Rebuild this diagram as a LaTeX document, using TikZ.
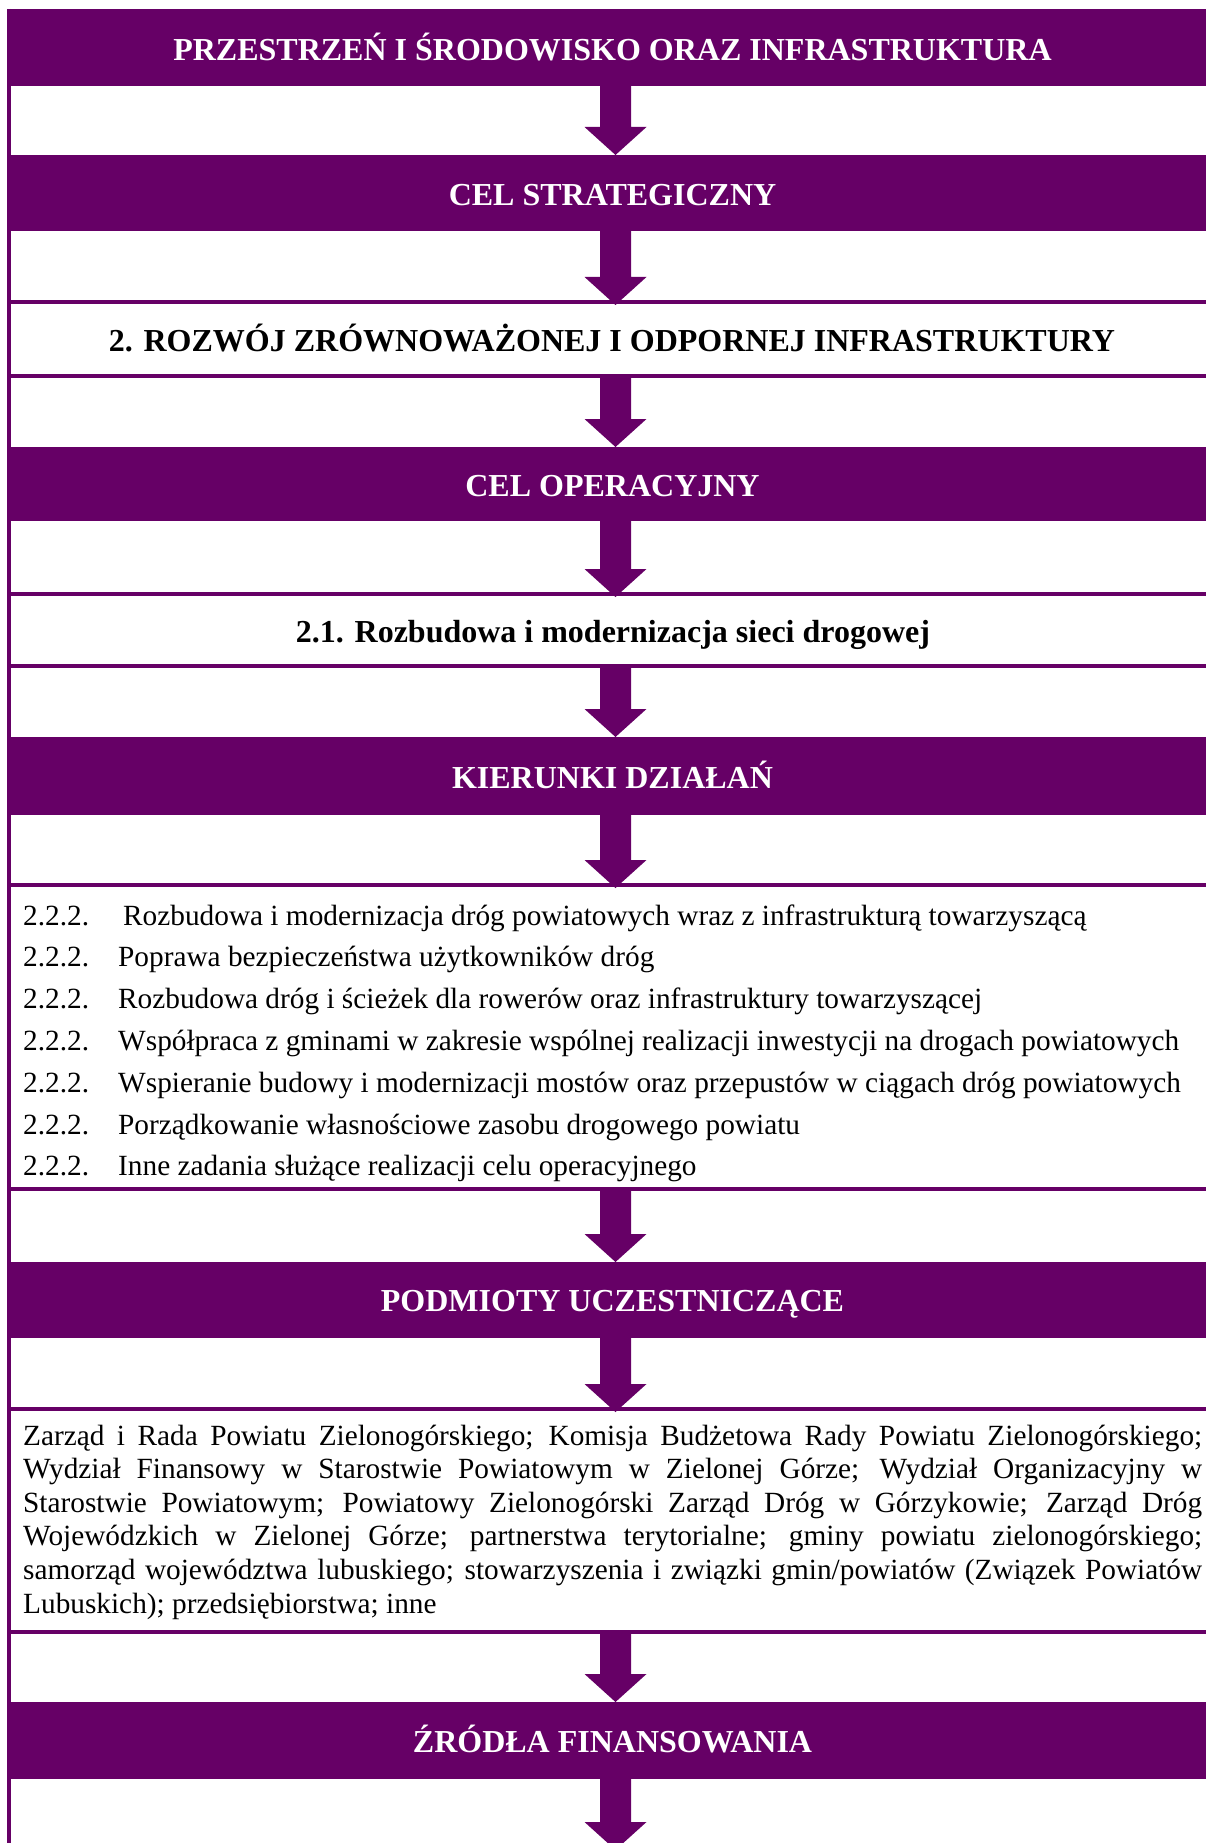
\documentclass[tikz,border=0pt]{standalone}
\usepackage{fontspec}
\setmainfont{Liberation Serif}
\usetikzlibrary{calc}
\definecolor{purp}{HTML}{660066}
\newcommand\blockarrow[2]{%
  \fill[purp] let \p1=(#1), \p2=(#2) in
   (\x1-15.5pt,\y1) -- (\x1+15.5pt,\y1) -- (\x1+15.5pt,\y2+28pt) -- (\x1+31pt,\y2+28pt)
   -- (\x1,\y2) -- (\x1-31pt,\y2+28pt) -- (\x1-15.5pt,\y2+28pt) -- cycle;}
\begin{document}
\begin{tikzpicture}[x=1pt,y=-1pt,
  banner/.style={fill=purp, inner sep=0pt, outer sep=0pt, anchor=north west, minimum width=1215pt},
  box/.style={draw=purp, line width=4pt, inner sep=0pt, outer sep=0pt, anchor=north west, minimum width=1215pt},
  head/.style={text=white, font=\fontsize{32}{38}\selectfont\bfseries, inner sep=0pt, anchor=base},
  boxhead/.style={text=black, font=\fontsize{32}{38}\selectfont\bfseries, inner sep=0pt, anchor=base},
  body/.style={text=black, font=\fontsize{29.3}{35}\selectfont, inner sep=0pt, anchor=base west}]
\useasboundingbox (0,0) rectangle (1206,1843);
\clip (0,0) rectangle (1206,1843);
\coordinate (ax) at (615.5,0);
\coordinate (endtip) at (615.5,1850);
% left rule
\draw[purp, line width=4pt] (9,9) -- (9,1850);
% banners and boxes
\node[banner, minimum height=77pt] (b1) at (7,9) {};
\node[banner, minimum height=76pt] (b2) at (7,155) {};
\node[box, minimum height=74pt] (b3) at (9,302) {};
\node[banner, minimum height=74pt] (b4) at (7,447) {};
\node[box, minimum height=72pt] (b5) at (9,594) {};
\node[banner, minimum height=78pt] (b6) at (7,737) {};
\node[box, minimum height=304pt] (b7) at (9,885) {};
\node[banner, minimum height=76pt] (b8) at (7,1262) {};
\node[box, minimum height=223pt] (b9) at (9,1409) {};
\node[banner, minimum height=77pt] (b10) at (7,1702) {};
% arrows
\blockarrow{b1.south -| ax}{b2.north -| ax}
\blockarrow{b2.south -| ax}{$(b3.north -| ax)+(0,3)$}
\blockarrow{b3.south -| ax}{b4.north -| ax}
\blockarrow{b4.south -| ax}{$(b5.north -| ax)+(0,3)$}
\blockarrow{b5.south -| ax}{b6.north -| ax}
\blockarrow{b6.south -| ax}{$(b7.north -| ax)+(0,3)$}
\blockarrow{b7.south -| ax}{b8.north -| ax}
\blockarrow{b8.south -| ax}{$(b9.north -| ax)+(0,3)$}
\blockarrow{b9.south -| ax}{b10.north -| ax}
\blockarrow{b10.south -| ax}{endtip}
% texts
\node[head] (t1) at (612.5,60.5) {PRZESTRZEŃ I ŚRODOWISKO ORAZ INFRASTRUKTURA};
\node[head] (t2) at (612.5,206) {CEL STRATEGICZNY};
\node[boxhead] (t3) at (612,351) {2. ROZWÓJ ZRÓWNOWAŻONEJ I ODPORNEJ INFRASTRUKTURY};
\node[head] (t4) at (612.5,496.5) {CEL OPERACYJNY};
\node[boxhead] (t5) at (613,642) {2.1. Rozbudowa i modernizacja sieci drogowej};
\node[head] (t6) at (612.5,788) {KIERUNKI DZIAŁAŃ};
\node[head] (t8) at (612.5,1311) {PODMIOTY UCZESTNICZĄCE};
\node[head] (t10) at (612.5,1752) {ŹRÓDŁA FINANSOWANIA};
% list
\foreach \t [count=\i] in {%
  {\hspace{5pt}Rozbudowa i modernizacja dróg powiatowych wraz z infrastrukturą towarzyszącą},
  {Poprawa bezpieczeństwa użytkowników dróg},
  {Rozbudowa dróg i ścieżek dla rowerów oraz infrastruktury towarzyszącej},
  {Współpraca z gminami w zakresie wspólnej realizacji inwestycji na drogach powiatowych},
  {Wspieranie budowy i modernizacji mostów oraz przepustów w ciągach dróg powiatowych},
  {Porządkowanie własnościowe zasobu drogowego powiatu},
  {Inne zadania służące realizacji celu operacyjnego}}
{
  \node[body] (n\i) at (23,{925+41.8*(\i-1)}) {2.2.2.};
  \node[body] (k\i) at (118,{925+41.8*(\i-1)}) {\t};
}
% paragraph
\node[body] (p1) at (23,1445) {\makebox[1179pt][s]{Zarząd i Rada Powiatu Zielonogórskiego; Komisja Budżetowa Rady Powiatu Zielonogórskiego;}};
\node[body] (p2) at (23,1478.6) {\makebox[1179pt][s]{Wydział Finansowy w Starostwie Powiatowym w Zielonej Górze; Wydział Organizacyjny w}};
\node[body] (p3) at (23,1512.2) {\makebox[1179pt][s]{Starostwie Powiatowym; Powiatowy Zielonogórski Zarząd Dróg w Górzykowie; Zarząd Dróg}};
\node[body] (p4) at (23,1545.8) {\makebox[1179pt][s]{Wojewódzkich w Zielonej Górze; partnerstwa terytorialne; gminy powiatu zielonogórskiego;}};
\node[body] (p5) at (23,1579.4) {\makebox[1179pt][s]{samorząd województwa lubuskiego; stowarzyszenia i związki gmin/powiatów (Związek Powiatów}};
\node[body] (p6) at (23,1613) {Lubuskich); przedsiębiorstwa; inne};
\end{tikzpicture}
\end{document}
